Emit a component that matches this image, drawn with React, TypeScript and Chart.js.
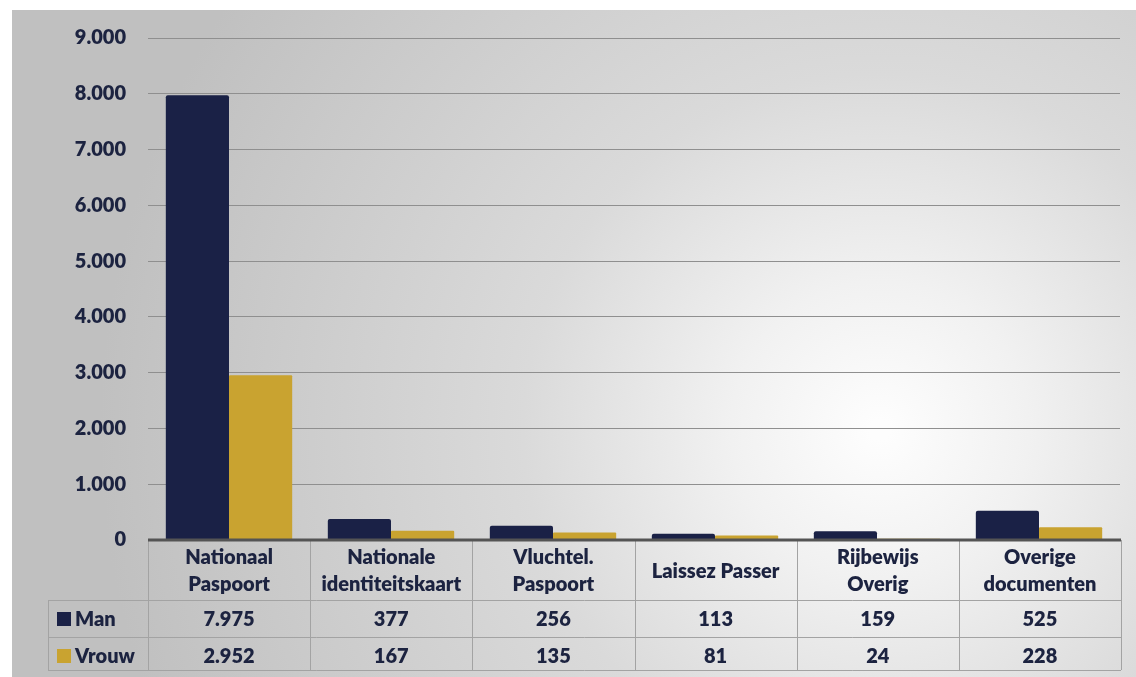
import React, { useEffect, useRef } from "react";
import { Chart, registerables } from "chart.js";

Chart.register(...registerables);

const categories: string[][] = [
  ["Nationaal", "Paspoort"],
  ["Nationale", "identiteitskaart"],
  ["Vluchtel.", "Paspoort"],
  ["Laissez Passer"],
  ["Rijbewijs", "Overig"],
  ["Overige", "documenten"],
];
const seriesNames = ["Man", "Vrouw"];
const manValues = [7975, 377, 256, 113, 159, 525];
const vrouwValues = [2952, 167, 135, 81, 24, 228];
const yTicks = [0, 1000, 2000, 3000, 4000, 5000, 6000, 7000, 8000, 9000];

const MAN_COLOR = "#1a2146";
const VROUW_COLOR = "#c9a330";
const TEXT_COLOR = "#1c2340";
const FONT = "Lato, 'Open Sans', sans-serif";

const fmt = (v: number) => String(v).replace(/\B(?=(\d{3})+(?!\d))/g, ".");

const bgPlugin = {
  id: "bg",
  beforeDraw(chart: any) {
    const ctx = chart.ctx;
    ctx.save();
    const g = ctx.createRadialGradient(880, 430, 10, 880, 430, 780);
    g.addColorStop(0, "#fdfdfd");
    g.addColorStop(0.18, "#f1f1f1");
    g.addColorStop(0.45, "#dadada");
    g.addColorStop(1, "#c0c0c0");
    ctx.fillStyle = g;
    ctx.fillRect(12, 10, chart.width - 12, chart.height - 10);
    ctx.restore();
  },
};

const tablePlugin = {
  id: "dataTable",
  afterDraw(chart: any) {
    const ctx = chart.ctx;
    const area = chart.chartArea;
    const left = area.left;
    const right = area.right + 1;
    const base = area.bottom;
    const n = categories.length;
    const w = (right - left) / n;
    const headerBottom = base + 60;
    const row1Bottom = base + 97;
    const row2Bottom = base + 130;
    const legendLeft = 48;

    ctx.save();
    ctx.strokeStyle = "#a3a3a3";
    ctx.lineWidth = 1;
    for (let i = 0; i <= n; i++) {
      const x = Math.round(left + i * w) + 0.5;
      ctx.beginPath();
      ctx.moveTo(x, base);
      ctx.lineTo(x, row2Bottom);
      ctx.stroke();
    }
    ctx.beginPath();
    ctx.moveTo(legendLeft + 0.5, headerBottom);
    ctx.lineTo(legendLeft + 0.5, row2Bottom);
    ctx.stroke();
    [headerBottom, row1Bottom, row2Bottom].forEach((y) => {
      ctx.beginPath();
      ctx.moveTo(legendLeft, y + 0.5);
      ctx.lineTo(right, y + 0.5);
      ctx.stroke();
    });
    ctx.strokeStyle = "#545454";
    ctx.lineWidth = 3;
    ctx.beginPath();
    ctx.moveTo(left, base);
    ctx.lineTo(right, base);
    ctx.stroke();

    ctx.fillStyle = TEXT_COLOR;
    ctx.textAlign = "center";
    ctx.textBaseline = "middle";
    ctx.font = `800 20px ${FONT}`;
    categories.forEach((lines, i) => {
      const cx = left + (i + 0.5) * w;
      if (lines.length === 1) {
        ctx.fillText(lines[0], cx, base + 32);
      } else {
        ctx.fillText(lines[0], cx, base + 18);
        ctx.fillText(lines[1], cx, base + 45);
      }
    });
    const rows = [manValues, vrouwValues];
    const rowY = [base + 80, base + 117];
    rows.forEach((vals, r) => {
      vals.forEach((v, i) => {
        const cx = left + (i + 0.5) * w;
        ctx.fillText(fmt(v), cx, rowY[r]);
      });
    });
    const colors = [MAN_COLOR, VROUW_COLOR];
    ctx.textAlign = "left";
    seriesNames.forEach((name, r) => {
      ctx.fillStyle = colors[r];
      ctx.fillRect(57, rowY[r] - 8, 14, 14);
      ctx.fillStyle = TEXT_COLOR;
      ctx.fillText(name, 75, rowY[r]);
    });
    ctx.restore();
  },
};

export default function App() {
  const ref = useRef<HTMLCanvasElement | null>(null);
  useEffect(() => {
    if (!ref.current) return;
    const chart = new Chart(ref.current, {
      type: "bar",
      data: {
        labels: categories.map((c) => c.join(" ")),
        datasets: [
          {
            label: seriesNames[0],
            data: manValues,
            backgroundColor: MAN_COLOR,
            barPercentage: 1,
            categoryPercentage: 0.78,
            borderRadius: 2,
          },
          {
            label: seriesNames[1],
            data: vrouwValues,
            backgroundColor: VROUW_COLOR,
            barPercentage: 1,
            categoryPercentage: 0.78,
            borderRadius: 1,
          },
        ],
      },
      options: {
        animation: false,
        responsive: false,
        layout: { padding: { left: 12, top: 38, right: 16, bottom: 137 } },
        plugins: {
          legend: { display: false },
          tooltip: { enabled: false },
          title: { display: false },
        },
        scales: {
          x: {
            display: false,
            grid: { display: false },
          },
          y: {
            min: 0,
            max: 9000,
            afterBuildTicks: (scale: any) => {
              scale.ticks = yTicks.map((v) => ({ value: v }));
            },
            afterFit: (scale: any) => {
              scale.width = 136;
            },
            border: { display: false },
            grid: {
              color: "#8f8f8f",
              lineWidth: 1,
              drawTicks: false,
            },
            ticks: {
              padding: 22,
              color: TEXT_COLOR,
              font: { family: FONT, size: 20, weight: "800" },
              callback: (v: any) => fmt(Number(v)),
            },
          },
        },
      },
      plugins: [bgPlugin, tablePlugin],
    });
    return () => chart.destroy();
  }, []);
  return (
    <div style={{ position: "fixed", left: 0, top: 0, width: 1136, height: 677, background: "#fff" }}>
      <canvas ref={ref} width={1136} height={677} style={{ width: 1136, height: 677, display: "block" }} />
    </div>
  );
}
